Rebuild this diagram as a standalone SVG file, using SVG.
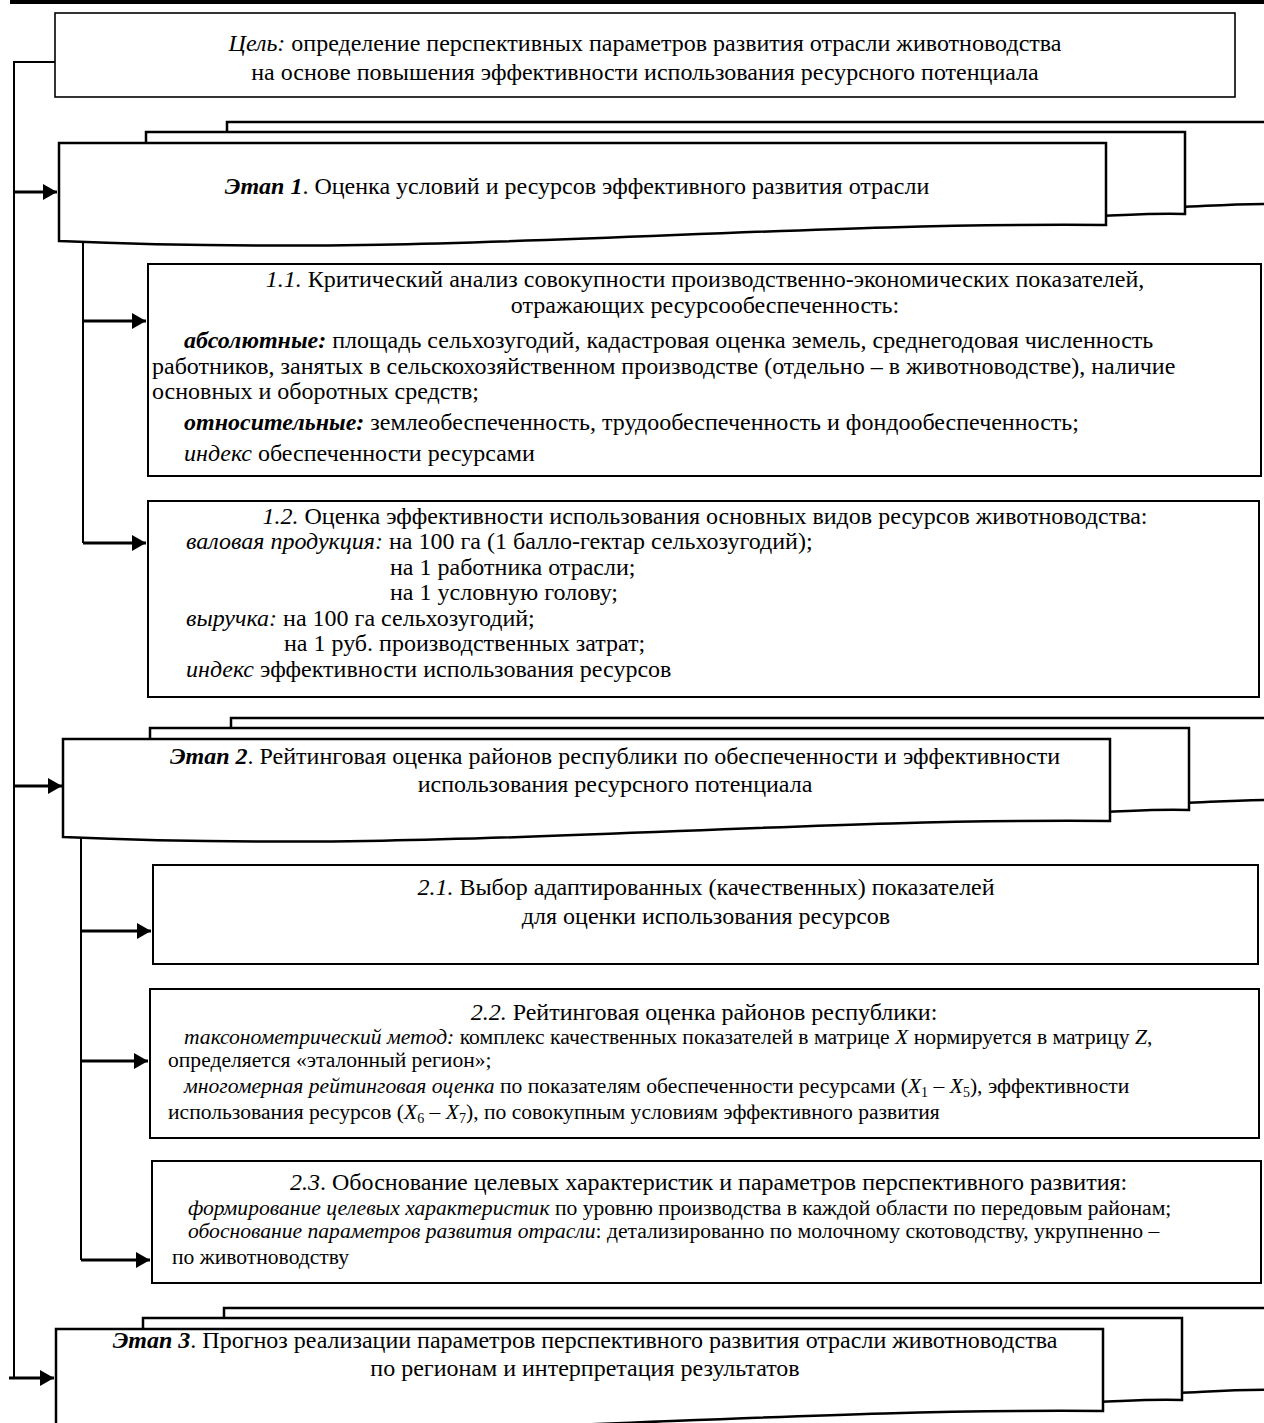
<svg xmlns="http://www.w3.org/2000/svg" width="1264" height="1423" viewBox="0 0 1264 1423">
<defs>
<style>
.t{font-family:'Liberation Serif','Times New Roman',serif;font-size:24px;fill:#000}
.s{font-size:21.6px}
.i{font-style:italic}
.b{font-weight:bold}
.m{text-anchor:middle}
.box{fill:#fff;stroke:#000;stroke-width:2}
.md{fill:#fff;stroke:#000;stroke-width:2.5;stroke-linejoin:miter}
.ln{fill:none;stroke:#000;stroke-width:2}
.ar{fill:none;stroke:#000;stroke-width:3}
</style>
<marker id="ah" markerUnits="userSpaceOnUse" markerWidth="15" markerHeight="16" refX="14" refY="8" orient="auto">
<path d="M0,0 L14,8 L0,16 Z" fill="#000"/>
</marker>
<g id="mdoc">
<path class="md" d="M227,140 V122 H1290 V204 C1240,203 1210,206 1180,207 L1180,140 Z"/>
<path class="md" d="M146,150 V132 H1185 V214 C1150,213 1130,215 1100,216 V150 Z"/>
<path class="md" d="M59,143 H1106 V225 C750,222 450,258 59,241 Z"/>
</g>
</defs>
<rect width="1264" height="1423" fill="#fff"/>
<rect x="10" y="0" width="1254" height="4" fill="#000"/>

<g id="connectors">
<path class="ln" d="M55,62 H14 V1378"/>
<path class="ar" d="M14,192 H57" marker-end="url(#ah)"/>
<path class="ar" d="M14,786 H62" marker-end="url(#ah)"/>
<path class="ar" d="M9,1378 H54" marker-end="url(#ah)"/>
<path class="ln" d="M83,242 V543"/>
<path class="ar" d="M83,321 H146" marker-end="url(#ah)"/>
<path class="ar" d="M83,543 H146" marker-end="url(#ah)"/>
<path class="ln" d="M81,836 V1260"/>
<path class="ar" d="M81,931 H151" marker-end="url(#ah)"/>
<path class="ar" d="M81,1061 H148" marker-end="url(#ah)"/>
<path class="ar" d="M81,1260 H150" marker-end="url(#ah)"/>
</g>

<g id="goal">
<rect class="box" x="55" y="13" width="1180" height="84" style="stroke-width:1.6"/>
<text class="t m" x="645" y="51"><tspan class="i">Цель:</tspan> определение перспективных параметров развития отрасли животноводства</text>
<text class="t m" x="645" y="80">на основе повышения эффективности использования ресурсного потенциала</text>
</g>

<g id="stage1">
<use href="#mdoc"/>
<text class="t m" x="577" y="194"><tspan class="b i">Этап 1</tspan>. Оценка условий и ресурсов эффективного развития отрасли</text>
</g>

<g id="step11">
<rect class="box" x="148" y="264" width="1113" height="212"/>
<text class="t m" x="705" y="287"><tspan class="i">1.1.</tspan> Критический анализ совокупности производственно-экономических показателей,</text>
<text class="t m" x="705" y="313">отражающих ресурсообеспеченность:</text>
<text class="t" x="184" y="348"><tspan class="b i">абсолютные:</tspan> площадь сельхозугодий, кадастровая оценка земель, среднегодовая численность</text>
<text class="t" x="152" y="374">работников, занятых в сельскохозяйственном производстве (отдельно – в животноводстве), наличие</text>
<text class="t" x="152" y="399">основных и оборотных средств;</text>
<text class="t" x="184" y="430"><tspan class="b i">относительные:</tspan> землеобеспеченность, трудообеспеченность и фондообеспеченность;</text>
<text class="t" x="184" y="461"><tspan class="i">индекс</tspan> обеспеченности ресурсами</text>
</g>

<g id="step12">
<rect class="box" x="148" y="501" width="1111" height="196"/>
<text class="t m" x="705" y="524"><tspan class="i">1.2.</tspan> Оценка эффективности использования основных видов ресурсов животноводства:</text>
<text class="t" x="186" y="549"><tspan class="i">валовая продукция:</tspan> на 100 га (1 балло-гектар сельхозугодий);</text>
<text class="t" x="390" y="575">на 1 работника отрасли;</text>
<text class="t" x="390" y="600">на 1 условную голову;</text>
<text class="t" x="186" y="626"><tspan class="i">выручка:</tspan> на 100 га сельхозугодий;</text>
<text class="t" x="284" y="651">на 1 руб. производственных затрат;</text>
<text class="t" x="186" y="677"><tspan class="i">индекс</tspan> эффективности использования ресурсов</text>
</g>

<g id="stage2">
<use href="#mdoc" transform="translate(4,596)"/>
<text class="t m" x="615" y="764"><tspan class="b i">Этап 2</tspan>. Рейтинговая оценка районов республики по обеспеченности и эффективности</text>
<text class="t m" x="615" y="792">использования ресурсного потенциала</text>
</g>

<g id="step21">
<rect class="box" x="153" y="865" width="1105" height="99"/>
<text class="t m" x="706" y="895"><tspan class="i">2.1.</tspan> Выбор адаптированных (качественных) показателей</text>
<text class="t m" x="706" y="924">для оценки использования ресурсов</text>
</g>

<g id="step22">
<rect class="box" x="150" y="989" width="1109" height="149"/>
<text class="t m" x="704" y="1020"><tspan class="i">2.2.</tspan> Рейтинговая оценка районов республики:</text>
<text class="t s" x="184" y="1044"><tspan class="i">таксонометрический метод:</tspan> комплекс качественных показателей в матрице <tspan class="i">X</tspan> нормируется в матрицу <tspan class="i">Z</tspan>,</text>
<text class="t s" x="168" y="1067">определяется «эталонный регион»;</text>
<text class="t s" x="184" y="1093"><tspan class="i">многомерная рейтинговая оценка</tspan> по показателям обеспеченности ресурсами (<tspan class="i">X</tspan><tspan font-size="14" dy="4">1</tspan><tspan dy="-4"> – </tspan><tspan class="i">X</tspan><tspan font-size="14" dy="4">5</tspan><tspan dy="-4">), эффективности</tspan></text>
<text class="t s" x="168" y="1119">использования ресурсов (<tspan class="i">X</tspan><tspan font-size="14" dy="4">6</tspan><tspan dy="-4"> – </tspan><tspan class="i">X</tspan><tspan font-size="14" dy="4">7</tspan><tspan dy="-4">), по совокупным условиям эффективного развития</tspan></text>
</g>

<g id="step23">
<rect class="box" x="152" y="1161" width="1109" height="122"/>
<text class="t" x="290" y="1190"><tspan class="i">2.3</tspan>. Обоснование целевых характеристик и параметров перспективного развития:</text>
<text class="t s" x="188" y="1215"><tspan class="i">формирование целевых характеристик</tspan> по уровню производства в каждой области по передовым районам;</text>
<text class="t s" x="188" y="1238"><tspan class="i">обоснование параметров развития отрасли</tspan>: детализированно по молочному скотоводству, укрупненно –</text>
<text class="t s" x="172" y="1264">по животноводству</text>
</g>

<g id="stage3">
<use href="#mdoc" transform="translate(-3,1186)"/>
<text class="t m" x="585" y="1348"><tspan class="b i">Этап 3</tspan>. Прогноз реализации параметров перспективного развития отрасли животноводства</text>
<text class="t m" x="585" y="1376">по регионам и интерпретация результатов</text>
</g>
</svg>
